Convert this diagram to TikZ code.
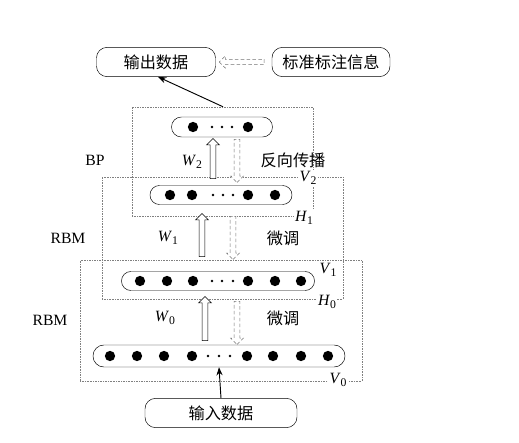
\documentclass[tikz,border=0pt]{standalone}
\usepackage{fontspec}
\setmainfont{Liberation Serif}
\newfontfamily\cjk{Noto Sans CJK SC}
\usepackage{tikz}
\usetikzlibrary{shapes.arrows, arrows.meta, positioning}
\newcommand{\wsub}[2]{\textit{#1}\raisebox{-0.35ex}{\fontsize{10}{12}\selectfont #2}}

\begin{document}
\begin{tikzpicture}[
    x=0.03cm, y=0.03cm,
    font=\fontsize{13.4}{16}\selectfont,
    databox/.style={rectangle, draw, rounded corners=9pt, minimum height=25pt, font=\cjk\fontsize{13.8}{16}\selectfont, inner sep=0pt},
    unitrow/.style={rectangle, draw, inner sep=0pt},
    unit/.style={circle, fill=black, inner sep=0pt, minimum size=8.8pt},
    gap/.style={circle, fill=black, inner sep=0pt, minimum size=2.4pt},
    layer/.style={rectangle, draw=gray, densely dotted, inner sep=0pt},
    uparrow/.style={single arrow, draw, fill=white, inner sep=2.3pt, minimum width=11pt, single arrow head extend=3pt, shape border rotate=90},
    downarrow/.style={uparrow, densely dashed, draw=gray!90!black, shape border rotate=270},
    tag/.style={fill=white, inner sep=1pt},
    cn/.style={font=\cjk\fontsize{13.8}{16}\selectfont},
    arrow/.style={-{Stealth[length=7pt]}, thick}
]
    \useasboundingbox (0,0) rectangle (519,443);

    % Layer boxes (dotted)
    \node[layer, minimum width=181*0.03cm, minimum height=109*0.03cm] (bp) at (222.5,281.5) {};
    \node[layer, minimum width=241*0.03cm, minimum height=122*0.03cm] (rbm1) at (222.5,205) {};
    \node[layer, minimum width=282*0.03cm, minimum height=121*0.03cm] (rbm0) at (221,122.5) {};

    % Units rows
    \node[unitrow, minimum width=101*0.03cm, minimum height=20*0.03cm, rounded corners=8.5pt] (l3) at (222,316) {};
    \node[unitrow, minimum width=142*0.03cm, minimum height=19*0.03cm, rounded corners=8pt] (l2) at (221,248) {};
    \node[unitrow, minimum width=193*0.03cm, minimum height=19*0.03cm, rounded corners=8pt] (l1) at (218,162) {};
    \node[unitrow, minimum width=252*0.03cm, minimum height=22*0.03cm, rounded corners=9.3pt] (l0) at (219,87) {};

    \foreach \x [count=\i] in {193,248} \node[unit] (u3-\i) at (\x,316) {};
    \foreach \x [count=\i] in {212,222,232} \node[gap] (g3-\i) at (\x,316) {};
    \foreach \x [count=\i] in {170,192,248,275} \node[unit] (u2-\i) at (\x,248) {};
    \foreach \x [count=\i] in {213,223,233} \node[gap] (g2-\i) at (\x,248) {};
    \foreach \x [count=\i] in {140,167,193,248,275,301} \node[unit] (u1-\i) at (\x,162) {};
    \foreach \x [count=\i] in {212,222,233} \node[gap] (g1-\i) at (\x,162) {};
    \foreach \x [count=\i] in {110,137,164,192,247,273,301,328} \node[unit] (u0-\i) at (\x,87) {};
    \foreach \x [count=\i] in {208,219,230} \node[gap] (g0-\i) at (\x,87) {};

    % Data boxes
    \node[databox, minimum width=119*0.03cm] (out) at (156,381) {输出数据};
    \node[databox, minimum width=118*0.03cm] (label) at (331,381) {标准标注信息};
    \node[databox, minimum width=152*0.03cm] (in) at (221,30) {输入数据};

    % Hollow arrows
    \node[uparrow, minimum height=40*0.03cm] (w2up) at (213,283) {};
    \node[downarrow, minimum height=43*0.03cm] (w2dn) at (237,283.5) {};
    \node[uparrow, minimum height=43*0.03cm] (w1up) at (202,206.5) {};
    \node[downarrow, minimum height=43*0.03cm] (w1dn) at (233,206.5) {};
    \node[uparrow, minimum height=44*0.03cm] (w0up) at (205,123) {};
    \node[downarrow, minimum height=43*0.03cm] (w0dn) at (237,121.5) {};
    \node[downarrow, minimum height=45*0.03cm, minimum width=10pt, inner sep=2pt, shape border rotate=180] (guide) at (243,381) {};

    % Labels
    \node (bpname) at (95,283) {BP};
    \node (rbm1name) at (68,205) {RBM};
    \node (rbm0name) at (50,123) {RBM};
    \node (w2) at (192,281) {\wsub{W}{2}};
    \node (w1) at (168,205) {\wsub{W}{1}};
    \node (w0) at (165,125) {\wsub{W}{0}};
    \node[cn] (bprop) at (293,283) {反向传播};
    \node[cn] (tune1) at (283,205) {微调};
    \node[cn] (tune0) at (283,125) {微调};
    \node[tag] (v2) at (308,265) {\wsub{V}{2}};
    \node[tag] (h1) at (304,225) {\wsub{H}{1}};
    \node[tag] (v1) at (328,173) {\wsub{V}{1}};
    \node[tag] (h0) at (327,141) {\wsub{H}{0}};
    \node[tag] (v0) at (338,63) {\wsub{V}{0}};

    % Arrows
    \draw[arrow] (in.north) -- (l0.south);
    \draw[arrow] ([xshift=0.5*0.03cm]bp.north) -- ([xshift=2*0.03cm]out.south);
\end{tikzpicture}
\end{document}
